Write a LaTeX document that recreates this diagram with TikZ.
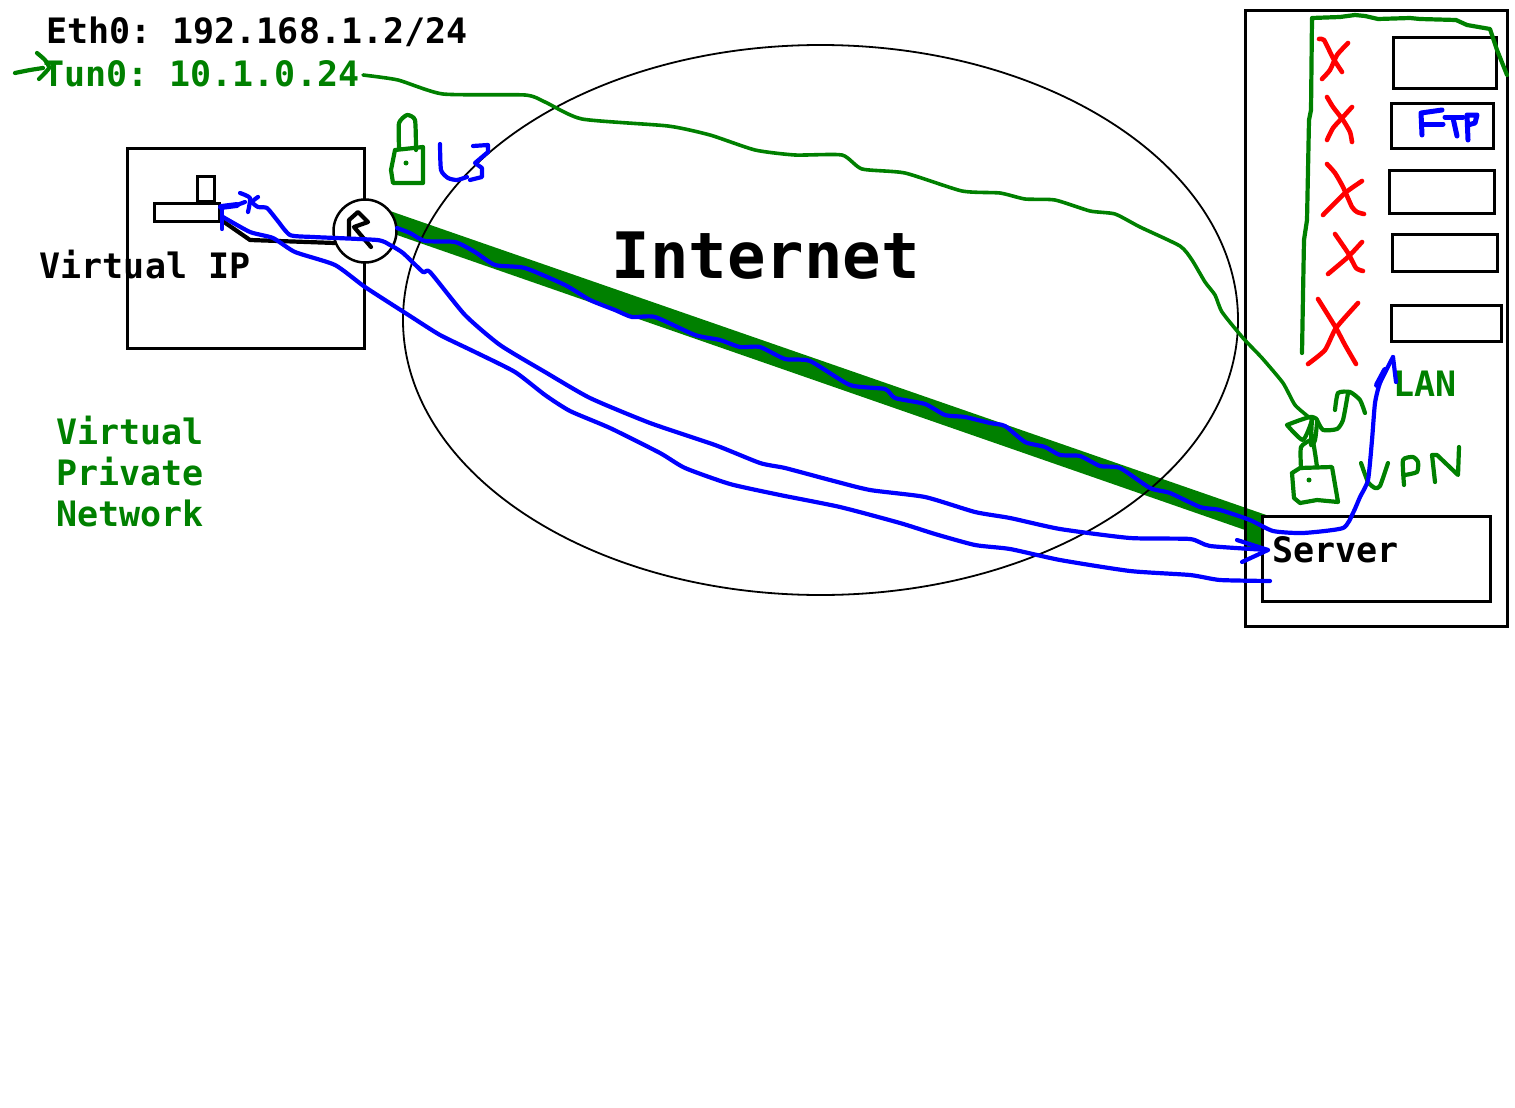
\documentclass[tikz,border=0pt]{standalone}
\usepackage{fontspec}
\setmonofont{DejaVu Sans Mono}[BoldFont={DejaVu Sans Mono Bold}]
\definecolor{gr}{HTML}{008000}
\definecolor{bl}{HTML}{0000FF}
\definecolor{rd}{HTML}{FF0000}
\tikzset{
  pen/.style={line width=4.2pt,line cap=round,line join=round},
  gpen/.style={pen,draw=gr},
  bpen/.style={pen,draw=bl},
  rpen/.style={pen,draw=rd,line width=4.6pt},
  box/.style={draw=black,line width=3pt,fill=none},
  lab/.style={font=\ttfamily\bfseries\fontsize{35}{41}\selectfont,inner sep=0pt,anchor=base west}
}
\newcommand{\hand}{plot[smooth,tension=.35] coordinates}
\begin{document}
\begin{tikzpicture}[x=1pt,y=-1pt]
\useasboundingbox (0,0) rectangle (1515,1108);
% tunnel band
\fill[gr] (390,211) -- (1272,517) -- (1262,517) -- (1262,548) -- (1245,548) -- (1245,530) -- (397,235) -- cycle;
% internet
\draw[black,line width=1.8pt] (820.5,320) ellipse [x radius=417.5,y radius=275];
% boxes
\draw[box] (127,148.5) rectangle (364,348);
\draw[box] (1245,11) rectangle (1507,626);
\draw[box] (1262,516.5) rectangle (1490,601);
\draw[box] (1393.5,38) rectangle (1496,88);
\draw[box] (1391,103.5) rectangle (1493,148);
\draw[box] (1389,170.5) rectangle (1494,213);
\draw[box] (1392,234.5) rectangle (1497,271);
\draw[box] (1391,305.5) rectangle (1501,341);
% computer
\draw[box] (154,203) rectangle (219,221);
\draw[box] (197,176) rectangle (214,201);
\draw[pen,black] plot coordinates {(224,222)(250,240)(335,243)};
% router
\node[circle,draw=black,line width=2.5pt,fill=white,minimum size=63pt,inner sep=0pt] (router) at (365,231) {};
\draw[pen,black] plot coordinates {(349,237)(349,220)(358,212)(368,222)(354,227)(371,247)};
% texts
\node[lab] (eth) at (46,44) {Eth0: 192.168.1.2/24};
\node[lab,text=gr] (tun) at (43,86) {Tun0: 10.1.0.24};
\node[lab] (vip) at (39.5,278) {Virtual IP};
\node[lab,text=gr] (v1) at (56,444) {Virtual};
\node[lab,text=gr] (v2) at (56,485) {Private};
\node[lab,text=gr] (v3) at (56,526) {Network};
\node[lab,font=\ttfamily\bfseries\fontsize{64}{70}\selectfont] (inet) at (611.5,278) {Internet};
\node[lab] (srv) at (1272,562) {Server};
\node[lab,text=gr] (lan) at (1393,396) {LAN};
% green freehand
\draw[gpen,line width=3.6pt] \hand {(363,75)(398,80)(443,94)(525,95)(545,102)(582,119)(668,126)(710,135)(755,150)(795,155)(842,155)(862,169)(905,173)(962,191)(1000,193)(1025,199)(1055,200)(1090,211)(1115,214)(1140,227)(1180,246)(1192,260)(1205,282)(1215,295)(1222,312)(1243,338)(1262,358)(1283,383)(1295,405)(1310,418)};
\draw[gpen] plot coordinates {(1302,353)(1303,295)(1304,240)(1307,220)(1308,170)(1309,120)(1311,110)(1312,18)(1340,17)(1355,15)(1365,16)(1378,19)(1410,18)(1420,19)(1456,20)(1467,25)(1490,29)(1497,50)(1507,75)};
\draw[gpen] \hand {(15,73)(30,70)(43,68)};
\draw[gpen] \hand {(37,53)(45,60)(49,68)(39,79)};
% left lock
\draw[gpen] plot coordinates {(395,150)(423,147)(423,183)(393,183)(391,170)(395,150)};
\draw[gpen] \hand {(399,147)(399,123)(407,115)(415,120)(416,150)};
\fill[gr] (406,163) circle (2.5pt);
% right lock
\draw[gpen] plot coordinates {(1292,473)(1300,468)(1332,467)(1338,502)(1317,500)(1300,503)(1294,498)(1292,473)};
\draw[gpen] \hand {(1301,468)(1301,447)(1312,440)(1315,453)(1317,467)};
\fill[gr] (1309,480) circle (2.5pt);
% eye and arrow
\draw[gpen] \hand {(1287,425)(1312,417)(1303,440)(1287,425)};
\draw[gpen] \hand {(1312,417)(1317,420)(1315,440)(1311,445)(1312,417)};
\draw[gpen] \hand {(1317,420)(1323,430)(1337,429)(1343,420)(1348,393)};
\draw[gpen] \hand {(1335,410)(1338,393)(1350,392)(1360,400)(1365,413)};
% VPN
\draw[gpen] \hand {(1361,463)(1368,482)(1375,488)(1380,486)(1388,463)};
\draw[gpen] \hand {(1404,485)(1403,460)(1413,457)(1418,462)(1417,472)(1405,475)};
\draw[gpen] plot coordinates {(1435,482)(1432,455)(1437,455)(1458,475)(1459,447)};
% red crosses
\draw[rpen] \hand {(1319,39)(1324,40)(1333,58)(1342,72)};
\draw[rpen] \hand {(1348,43)(1337,55)(1330,70)(1322,79)};
\draw[rpen] \hand {(1327,97)(1333,107)(1343,120)(1350,132)(1352,142)};
\draw[rpen] \hand {(1352,107)(1343,117)(1333,128)(1327,140)};
\draw[rpen] \hand {(1327,164)(1335,173)(1343,187)(1352,207)(1357,212)(1364,214)};
\draw[rpen] \hand {(1362,181)(1345,193)(1323,215)};
\draw[rpen] \hand {(1335,234)(1348,253)(1356,268)(1363,271)};
\draw[rpen] \hand {(1362,242)(1348,257)(1328,274)};
\draw[rpen] \hand {(1318,299)(1336,328)(1345,345)(1356,364)};
\draw[rpen] \hand {(1358,303)(1336,328)(1325,350)(1308,364)};
% blue freehand
\draw[bpen] \hand {(397,228)(410,233)(425,241)(455,242)(475,252)(495,265)(525,268)(565,285)(590,300)(615,310)(632,317)(655,317)(695,335)(720,340)(740,347)(760,347)(785,359)(810,361)(850,385)(885,389)(895,398)(925,404)(945,415)(965,417)(990,423)(1005,426)(1025,442)(1045,447)(1060,455)(1080,456)(1100,466)(1120,468)(1150,488)(1170,493)(1200,507)(1220,510)(1250,520)(1273,531)(1303,533)(1343,528)(1353,513)(1360,497)(1368,480)(1372,440)(1375,403)(1380,383)(1393,357)};
\draw[bpen] (1393,357) -- (1396,382);
\draw[bpen,line width=6pt] (1377,385) -- (1385,370);
\draw[bpen,line width=6pt] (221,207) -- (237,205);
\draw[bpen] (237,205) -- (245,202);
\draw[bpen] \hand {(240,193)(250,198)(248,212)};
\draw[bpen] (222,207) -- (222,229);
\draw[bpen] \hand {(258,197)(252,202)(258,207)(267,208)(277,220)(290,235)(313,237)(377,240)(390,245)(403,253)(423,272)(430,272)(465,315)(500,345)(545,372)(590,398)(650,423)(715,445)(760,463)(785,468)(830,480)(870,490)(925,497)(975,512)(1010,518)(1060,529)(1130,538)(1190,539)(1210,546)(1268,550)};
\draw[bpen] plot coordinates {(1237,540)(1268,550)(1242,562)};
\draw[bpen] \hand {(223,217)(250,232)(273,238)(295,252)(335,265)(365,287)(410,316)(440,335)(475,352)(515,372)(545,395)(570,411)(610,428)(660,453)(685,468)(730,484)(780,495)(840,507)(900,523)(935,534)(975,545)(1010,549)(1060,560)(1130,571)(1190,575)(1220,580)(1270,581)};
% U3
\draw[bpen] \hand {(440,144)(441,170)(448,178)(457,180)(467,177)};
\draw[bpen] plot coordinates {(473,146)(488,145)(488,152)(475,163)(482,168)(482,177)(470,180)};
% Ftp
\draw[bpen,line width=5pt] plot coordinates {(1422,135)(1421,113)(1442,110)};
\draw[bpen,line width=5pt] (1422,124) -- (1443,124);
\draw[bpen,line width=5pt] (1445,117) -- (1463,117);
\draw[bpen,line width=5pt] (1453,118) -- (1457,136);
\draw[bpen,line width=5pt] plot coordinates {(1468,140)(1467,115)(1477,115)(1475,123)(1468,125)};
\end{tikzpicture}
\end{document}
